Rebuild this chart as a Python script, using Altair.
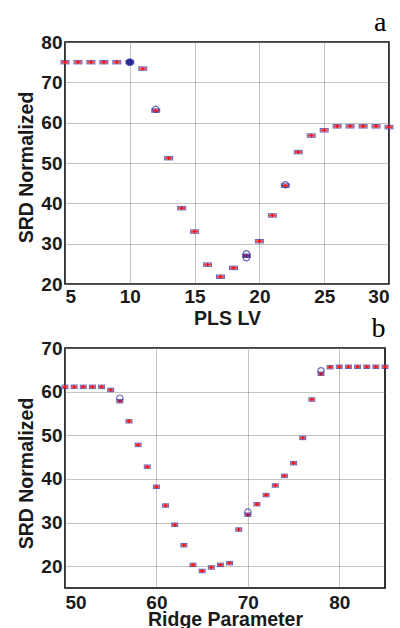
import altair as alt
import pandas as pd

# Panel a: SRD vs number of PLS latent variables
pls_lv = list(range(5, 31))
pls_median = [75.0, 75.0, 75.0, 75.0, 75.0, 75.0, 73.4, 63.0, 51.2, 38.8, 33.0, 24.8, 21.8,
               24.0, 27.0, 30.6, 37.0, 44.4, 52.7, 56.8, 58.1, 59.1, 59.1, 59.1, 59.1, 58.9]
pls_mean_x = [12, 19, 19, 22]
pls_mean_y = [63.3, 27.5, 26.5, 44.6]
pls_best_x = [10]
pls_best_y = [75.0]

# Panel b: SRD vs ridge parameter
ridge = list(range(50, 86))
ridge_median = [61.1, 61.1, 61.1, 61.1, 61.1, 60.4, 57.8, 53.2, 47.8, 42.8, 38.2, 33.9,
                29.5, 24.8, 20.3, 18.9, 19.7, 20.3, 20.7, 28.4, 31.8, 34.2, 36.3, 38.5,
                40.7, 43.6, 49.4, 58.2, 64.1, 65.6, 65.7, 65.7, 65.7, 65.7, 65.7, 65.7]
ridge_mean_x = [56, 70, 78]
ridge_mean_y = [58.5, 32.4, 64.8]

BLUE = "#2a2a9a"
RED = "#ff1010"
FONT = "Liberation Sans"


def panel(xs, ys, mx, my, xdom, ydom, xticks, yticks, xtitle, letter, letter_dx,
          w, h, x_lab_pad, x_title_y, y_title_y, box_w, bx=None, by=None):
    d = pd.DataFrame({"x": xs, "y": ys})
    m = pd.DataFrame({"x": mx, "y": my})
    xenc = alt.X("x:Q", scale=alt.Scale(domain=xdom, nice=False, zero=False),
                 axis=alt.Axis(values=xticks, title=xtitle, labelPadding=x_lab_pad,
                               titleY=x_title_y, titleBaseline="alphabetic"))
    yenc = alt.Y("y:Q", scale=alt.Scale(domain=ydom, nice=False, zero=False),
                 axis=alt.Axis(values=yticks, title="SRD Normalized", labelPadding=3,
                               titleX=-39, titleY=y_title_y, titleBaseline="middle"))
    # box outline (blue), median bar and cross (red), means (blue rings)
    boxes = alt.Chart(d).mark_tick(color=BLUE, thickness=4.5, size=box_w,
                                   orient="horizontal").encode(x=xenc, y=yenc)
    inner = alt.Chart(d).mark_tick(color="white", thickness=2.5, size=box_w - 2,
                                   orient="horizontal").encode(x="x:Q", y="y:Q")
    med = alt.Chart(d).mark_tick(color=RED, thickness=2, size=box_w - 2,
                                 orient="horizontal").encode(x="x:Q", y="y:Q")
    plus = alt.Chart(d).mark_point(shape="cross", filled=True, color=RED,
                                   size=12, opacity=1).encode(x="x:Q", y="y:Q")
    means = alt.Chart(m).mark_point(shape="circle", filled=False, color=BLUE,
                                    size=40, strokeWidth=1.2).encode(x="x:Q", y="y:Q")
    layers = [boxes, inner, med, plus, means]
    if bx is not None:
        b = pd.DataFrame({"x": bx, "y": by})
        layers.append(alt.Chart(b).mark_point(shape="circle", filled=True, color=BLUE,
                                              size=55, opacity=1).encode(x="x:Q", y="y:Q"))
    return alt.layer(*layers).properties(
        width=w, height=h,
        title=alt.TitleParams(letter, anchor="end", font="Liberation Serif",
                              fontSize=28, fontWeight="normal", offset=4,
                              dx=letter_dx, dy=8),
    )


top = panel(pls_lv, pls_median, pls_mean_x, pls_mean_y, [5, 30], [20, 80],
            [5, 10, 15, 20, 25, 30], [20, 30, 40, 50, 60, 70, 80], "PLS LV", "a", -7,
            324, 242, 3, 40, 125, 9, pls_best_x, pls_best_y)
bottom = panel(ridge, ridge_median, ridge_mean_x, ridge_mean_y, [50, 85], [15, 70],
               [50, 60, 70, 80], [20, 30, 40, 50, 60, 70], "Ridge Parameter", "b", -3,
               320, 240, 5, 37, 125, 7)

chart = alt.vconcat(top, bottom, spacing=64, bounds="flush").properties(
    padding={"left": 15, "top": 8, "right": 0, "bottom": 0},
    background="white",
).configure_view(
    stroke="black", strokeWidth=1.6
).configure_axis(
    labelFont=FONT, labelFontSize=19, labelFontWeight="bold", labelColor="#1a1a1a",
    titleFont=FONT, titleFontSize=19.5, titleFontWeight="bold", titleColor="#1a1a1a",
    ticks=False, domain=False,
    gridColor="#7a7a7a", gridDash=[1, 1], gridWidth=0.9, gridOpacity=1,
)

chart.save("out.html", embed_options={"renderer": "svg", "actions": False})
